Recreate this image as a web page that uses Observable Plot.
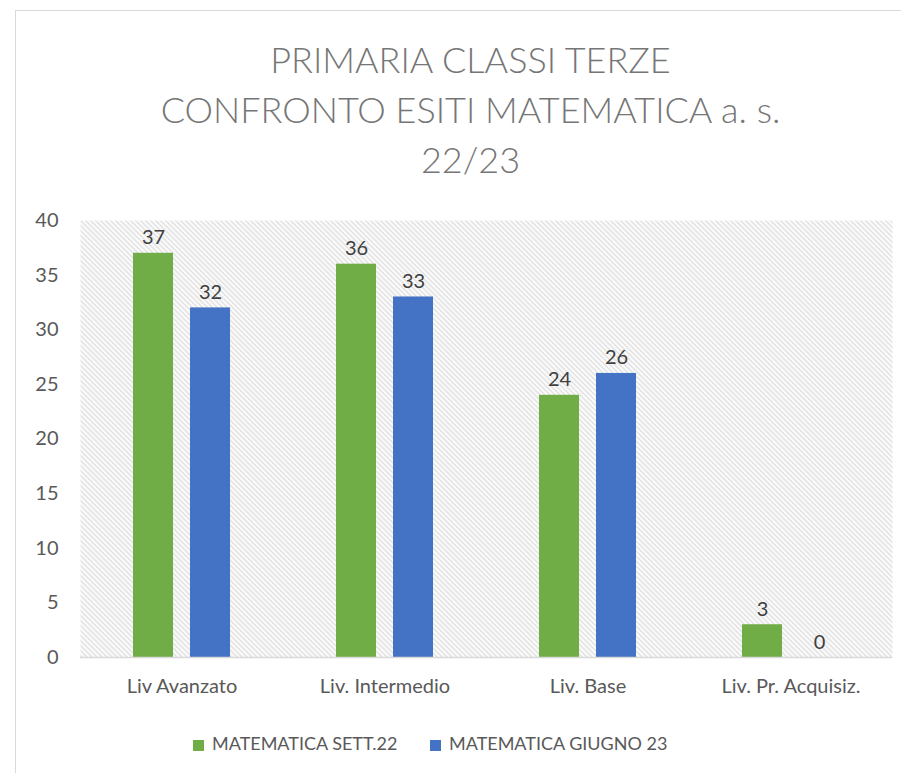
<!DOCTYPE html>
<html>
<head>
<meta charset="utf-8">
<script src="https://cdn.jsdelivr.net/npm/d3@7"></script>
<script src="https://cdn.jsdelivr.net/npm/@observablehq/plot@0.6"></script>
<style>
  html, body { margin: 0; padding: 0; background: #fff; }
  body { width: 901px; height: 773px; position: relative; overflow: hidden; font-family: Lato, "Open Sans", sans-serif; }
  #frame { position: absolute; left: 15px; top: 10px; width: 1000px; height: 1000px; border: 1px solid #d9d9d9; box-sizing: border-box; }
  #title { position: absolute; left: 20px; top: 34px; width: 901px; text-align: center; color: #767676; font-size: 36px; line-height: 50px; font-weight: 300; }
  #chart { position: absolute; left: 0; top: 200px; }
  #legend { position: absolute; left: 0; top: 732px; width: 901px; font-size: 18px; color: #595959; }
  .item { position: absolute; top: 0; white-space: nowrap; }
  .sw { display: inline-block; width: 11px; height: 11px; margin-right: 8px; vertical-align: -1px; }
</style>
</head>
<body>
<div id="frame"></div>
<div id="title">PRIMARIA CLASSI TERZE<br>CONFRONTO ESITI MATEMATICA a. s.<br>22/23</div>
<div id="chart"></div>
<div id="legend"></div>
<script>
const categories = ["Liv Avanzato", "Liv. Intermedio", "Liv. Base", "Liv. Pr. Acquisiz."];
const seriesNames = ["MATEMATICA SETT.22", "MATEMATICA GIUGNO 23"];
const sett22 = [37, 36, 24, 3];
const giugno23 = [32, 33, 26, 0];
const colors = ["#70AD47", "#4472C4"];
const yTicks = [0, 5, 10, 15, 20, 25, 30, 35, 40];

const data = [];
categories.forEach((c, i) => {
  data.push({cat: c, series: seriesNames[0], value: sett22[i]});
  data.push({cat: c, series: seriesNames[1], value: giugno23[i]});
});

const plot = Plot.plot({
  width: 901,
  height: 510,
  marginLeft: 80,
  marginRight: 9,
  marginTop: 20,
  marginBottom: 53,
  style: {fontFamily: "Lato, 'Open Sans', sans-serif", fontSize: "20px", color: "#595959", background: "transparent"},
  fx: {domain: categories, padding: 0, label: null},
  x: {domain: seriesNames, paddingInner: 0.3, paddingOuter: 0.93, axis: null},
  y: {domain: [0, 40], label: null},
  color: {domain: seriesNames, range: colors},
  marks: [
    Plot.frame({fill: "url(#hatch)", stroke: null, facet: "super"}),
    Plot.axisY({ticks: yTicks, tickSize: 0, tickPadding: 22, label: null, fontSize: 20, fill: "#595959"}),
    Plot.axisFx({anchor: "bottom", tickSize: 0, tickPadding: 21, label: null, fontSize: 20, fill: "#595959"}),
    Plot.barY(data, {fx: "cat", x: "series", y: "value", fill: "series"}),
    Plot.ruleY([0], {stroke: "#d9d9d9", strokeWidth: 1.5}),
    Plot.text(data, {fx: "cat", x: "series", y: "value", text: d => String(d.value), lineAnchor: "bottom", dy: -9, fontSize: 20, fill: "#404040"})
  ]
});

const svg = d3.select(plot);
const defs = svg.insert("defs", ":first-child");
const P = 5;
const pat = defs.append("pattern")
  .attr("id", "hatch").attr("patternUnits", "userSpaceOnUse")
  .attr("width", P).attr("height", P);
pat.append("rect").attr("width", P).attr("height", P).attr("fill", "#ffffff");
pat.append("path")
  .attr("d", `M-1,-1 L${P + 1},${P + 1} M-1,${P - 1} L1,${P + 1} M${P - 1},-1 L${P + 1},1`)
  .attr("stroke", "#d9d9d9").attr("stroke-width", 1.3);

document.getElementById("chart").appendChild(plot);

const legend = document.getElementById("legend");
const lx = [193, 430];
seriesNames.forEach((s, i) => {
  const it = document.createElement("div");
  it.className = "item";
  it.style.left = lx[i] + "px";
  it.innerHTML = `<span class="sw" style="background:${colors[i]}"></span>${s}`;
  legend.appendChild(it);
});
</script>
</body>
</html>
